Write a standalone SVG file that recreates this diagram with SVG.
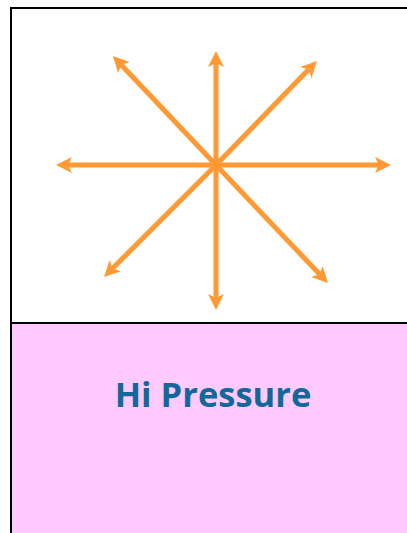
<svg xmlns="http://www.w3.org/2000/svg" width="407" height="533" viewBox="0 0 407 533">
<defs>
<style>
.frame{fill:#ffffff;stroke:#000000;stroke-width:2}
.hp{fill:#FFCAFF;stroke:#000000;stroke-width:2}
.ray{stroke:#FF9933;stroke-width:5;fill:none;marker-end:url(#ah)}
.lbl{font-family:"Open Sans","Liberation Sans",sans-serif;font-weight:bold;font-size:34.5px;fill:#11689A}
</style>
<marker id="ah" markerUnits="userSpaceOnUse" markerWidth="18" markerHeight="18" viewBox="0 -9 18 18" refX="4" refY="0" orient="auto">
<path d="M16,0 L0,-8 L4,0 L0,8 Z" fill="#FF9933"/>
</marker>
</defs>
<rect width="407" height="533" fill="#ffffff"/>
<g id="upper-box">
<rect class="frame" x="11" y="8" width="410" height="315"/>
</g>
<g id="hi-pressure">
<rect class="hp" x="11" y="323" width="410" height="220"/>
<text class="lbl" x="213" y="407" text-anchor="middle">Hi Pressure</text>
</g>
<g id="connectors">
<line class="ray" x1="216" y1="165" x2="216" y2="63"/>
<line class="ray" x1="216" y1="165" x2="216" y2="298"/>
<line class="ray" x1="216" y1="165" x2="68" y2="165"/>
<line class="ray" x1="216" y1="165" x2="379" y2="165"/>
<line class="ray" x1="216" y1="165" x2="121.2" y2="64.7"/>
<line class="ray" x1="216" y1="165" x2="308.6" y2="69.6"/>
<line class="ray" x1="216" y1="165" x2="112.5" y2="268.5"/>
<line class="ray" x1="216" y1="165" x2="319.7" y2="274.3"/>
</g>
</svg>
